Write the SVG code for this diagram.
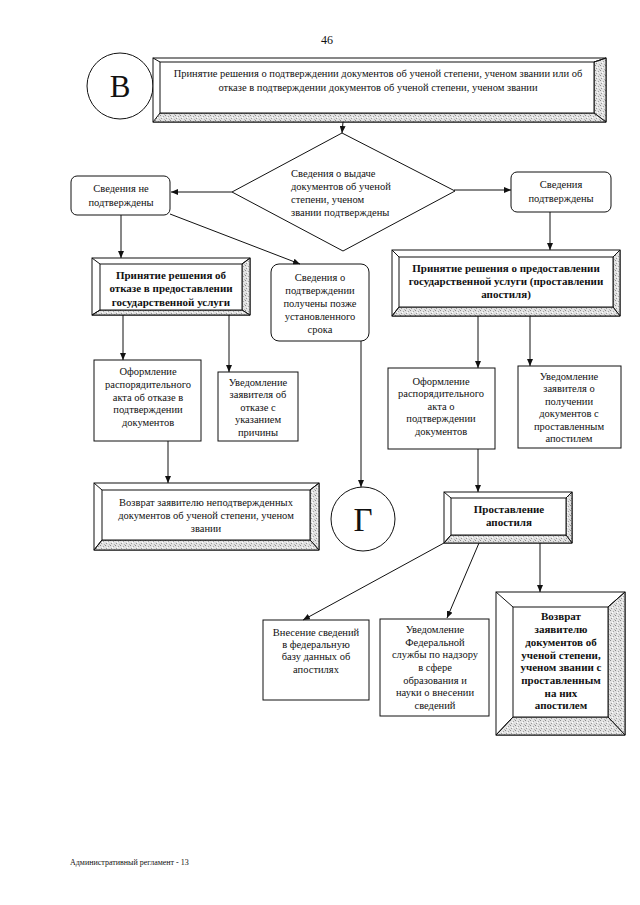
<svg xmlns="http://www.w3.org/2000/svg" width="640" height="905" viewBox="0 0 640 905">
<style>
text{font-family:"Liberation Serif","Times New Roman",serif;font-size:10.5px;fill:#111;text-anchor:middle}
.b{font-weight:bold;font-size:11px}
.l{text-anchor:start}
.box{fill:#fff;stroke:#111;stroke-width:1}
.sh{fill:url(#stip);stroke:#111;stroke-width:1}
.bv{fill:#fff;stroke:#111;stroke-width:1}
.ln{stroke:#111;stroke-width:1;fill:none}
.c{stroke:#111;stroke-width:1;fill:none;marker-end:url(#ah)}
</style>
<defs>
<pattern id="stip" width="5" height="5" patternUnits="userSpaceOnUse">
<rect width="5" height="5" fill="#e2e2e2"/>
<rect x="0" y="0" width="1" height="1" fill="#8a8a8a"/>
<rect x="3" y="1" width="1" height="1" fill="#a5a5a5"/>
<rect x="1" y="3" width="1" height="1" fill="#999"/>
<rect x="4" y="4" width="1" height="1" fill="#b5b5b5"/>
<rect x="2" y="2" width="1" height="1" fill="#fff"/>
</pattern>
<marker id="ah" markerWidth="7" markerHeight="6" refX="7" refY="3" orient="auto" markerUnits="userSpaceOnUse">
<path d="M0,0 L7,3 L0,6 Z" fill="#111"/>
</marker>
</defs>
<rect width="640" height="905" fill="#fff"/>
<text x="327" y="44" style="font-size:12px">46</text>

<g id="nodeB">
<circle cx="120" cy="86" r="33" class="box"/>
<text x="120" y="97" style="font-size:31px">В</text>
</g>

<g id="node-top">
<rect x="153" y="58" width="453" height="64" class="bv"/>
<polygon points="606,58 606,122 594,113 594,62" class="sh"/>
<polygon points="153,122 606,122 594,113 160,113" class="sh"/>
<rect x="160" y="62" width="434" height="51" class="bv"/>
<path d="M153,58 L160,62 M606,58 L594,62" class="ln"/>
<text x="378" y="77">Принятие решения о подтверждении документов об ученой степени, ученом звании или об</text>
<text x="378" y="91">отказе в подтверждении документов об ученой степени, ученом звании</text>
</g>

<g id="node-diamond">
<polygon points="342,133 455,191 343,251 232,192" class="box"/>
<text x="291" y="177" class="l">Сведения о выдаче</text>
<text x="291" y="190" class="l">документов об ученой</text>
<text x="291" y="203" class="l">степени, ученом</text>
<text x="291" y="216" class="l">звании подтверждены</text>
</g>

<g id="node-not-confirmed">
<rect x="71" y="176" width="99" height="39" rx="6" class="box"/>
<text x="121" y="192">Сведения не</text>
<text x="121" y="206">подтверждены</text>
</g>

<g id="node-confirmed">
<rect x="511" y="172" width="100" height="40" rx="6" class="box"/>
<text x="561" y="188">Сведения</text>
<text x="561" y="202">подтверждены</text>
</g>

<g id="node-refuse">
<rect x="92" y="258" width="158" height="57" class="bv"/>
<polygon points="250,258 250,315 242,310 242,264" class="sh"/>
<polygon points="92,315 250,315 242,310 100,310" class="sh"/>
<rect x="100" y="264" width="142" height="46" class="bv"/>
<path d="M92,258 L100,264 M250,258 L242,264 M92,315 L100,310" class="ln"/>
<text x="171" y="279" class="b">Принятие решения об</text>
<text x="171" y="292" class="b">отказе в предоставлении</text>
<text x="171" y="306" class="b">государственной услуги</text>
</g>

<g id="node-late">
<rect x="271" y="264" width="98" height="77" rx="8" class="box"/>
<text x="320" y="281">Сведения о</text>
<text x="320" y="294">подтверждении</text>
<text x="320" y="307">получены позже</text>
<text x="320" y="320">установленного</text>
<text x="320" y="333">срока</text>
</g>

<g id="node-grant">
<rect x="392" y="250" width="228" height="66" class="bv"/>
<polygon points="620,250 620,316 613,307 613,257" class="sh"/>
<polygon points="392,316 620,316 613,307 399,307" class="sh"/>
<rect x="399" y="257" width="214" height="50" class="bv"/>
<path d="M392,250 L399,257 M620,250 L613,257 M392,316 L399,307" class="ln"/>
<text x="506" y="272" class="b">Принятие решения о предоставлении</text>
<text x="506" y="285" class="b">государственной услуги (проставлении</text>
<text x="506" y="298" class="b">апостиля)</text>
</g>

<g id="node-act-refuse">
<rect x="94" y="360" width="107" height="81" class="box"/>
<text x="148" y="375">Оформление</text>
<text x="148" y="388">распорядительного</text>
<text x="148" y="401">акта об отказе в</text>
<text x="148" y="413">подтверждении</text>
<text x="148" y="426">документов</text>
</g>

<g id="node-notify-refuse">
<rect x="218" y="372" width="80" height="69" class="box"/>
<text x="258" y="386">Уведомление</text>
<text x="258" y="398">заявителя об</text>
<text x="258" y="411">отказе с</text>
<text x="258" y="423">указанием</text>
<text x="258" y="436">причины</text>
</g>

<g id="node-return-unconfirmed">
<rect x="94" y="483" width="225" height="67" class="bv"/>
<polygon points="319,483 319,550 310,540 310,490" class="sh"/>
<polygon points="94,550 319,550 310,540 102,540" class="sh"/>
<rect x="102" y="490" width="208" height="50" class="bv"/>
<path d="M94,483 L102,490 M319,483 L310,490 M94,550 L102,540" class="ln"/>
<text x="206" y="506">Возврат заявителю неподтвержденных</text>
<text x="206" y="519">документов об ученой степени, ученом</text>
<text x="206" y="532">звании</text>
</g>

<g id="nodeG">
<circle cx="363" cy="519" r="32" class="box"/>
<text x="363" y="531" style="font-size:33px">Г</text>
</g>

<g id="node-act-confirm">
<rect x="388" y="368" width="107" height="81" class="box"/>
<text x="441" y="385">Оформление</text>
<text x="441" y="397">распорядительного</text>
<text x="441" y="410">акта о</text>
<text x="441" y="422">подтверждении</text>
<text x="441" y="435">документов</text>
</g>

<g id="node-notify-apostille">
<rect x="518" y="366" width="103" height="82" class="box"/>
<text x="569" y="380">Уведомление</text>
<text x="569" y="392">заявителя о</text>
<text x="569" y="405">получении</text>
<text x="569" y="417">документов с</text>
<text x="569" y="430">проставленным</text>
<text x="569" y="442">апостилем</text>
</g>

<g id="node-apostille">
<rect x="444" y="492" width="128" height="51" class="bv"/>
<polygon points="572,492 572,543 566,535 566,498" class="sh"/>
<polygon points="444,543 572,543 566,535 451,535" class="sh"/>
<rect x="451" y="498" width="115" height="37" class="bv"/>
<path d="M444,492 L451,498 M572,492 L566,498 M444,543 L451,535" class="ln"/>
<text x="509" y="513" class="b">Проставление</text>
<text x="509" y="526" class="b">апостиля</text>
</g>

<g id="node-federal-db">
<rect x="263" y="620" width="106" height="80" class="box"/>
<text x="316" y="636">Внесение сведений</text>
<text x="316" y="648">в федеральную</text>
<text x="316" y="660">базу данных об</text>
<text x="316" y="673">апостилях</text>
</g>

<g id="node-notify-federal">
<rect x="380" y="619" width="109" height="97" class="box"/>
<text x="435" y="633">Уведомление</text>
<text x="435" y="646">Федеральной</text>
<text x="435" y="658">службы по надзору</text>
<text x="435" y="671">в сфере</text>
<text x="435" y="684">образования и</text>
<text x="435" y="696">науки о внесении</text>
<text x="435" y="709">сведений</text>
</g>

<g id="node-return-apostille">
<rect x="496" y="592" width="129" height="143" class="bv"/>
<polygon points="625,592 625,735 608,717 608,607" class="sh"/>
<polygon points="496,735 625,735 608,717 513,717" class="sh"/>
<rect x="513" y="607" width="95" height="110" class="bv"/>
<path d="M496,592 L513,607 M625,592 L608,607 M496,735 L513,717" class="ln"/>
<text x="561" y="620" class="b">Возврат</text>
<text x="561" y="633" class="b">заявителю</text>
<text x="561" y="646" class="b">документов об</text>
<text x="561" y="659" class="b">ученой степени,</text>
<text x="561" y="671" class="b">ученом звании с</text>
<text x="561" y="684" class="b">проставленным</text>
<text x="561" y="697" class="b">на них</text>
<text x="561" y="709" class="b">апостилем</text>
</g>

<g id="connectors">
<path d="M343,122 L342,133" class="c"/>
<path d="M232,192 L171,192" class="c"/>
<path d="M454,190 L511,190" class="c"/>
<path d="M121,215 L121,258" class="c"/>
<path d="M170,214 L300,264" class="c"/>
<path d="M550,212 L550,250" class="c"/>
<path d="M123,315 L123,360" class="c"/>
<path d="M229,315 L229,372" class="c"/>
<path d="M478,316 L478,368" class="c"/>
<path d="M530,316 L530,366" class="c"/>
<path d="M168,441 L168,483" class="c"/>
<path d="M361,341 L361,487" class="c"/>
<path d="M478,449 L478,492" class="c"/>
<path d="M444,543 L303,620" class="c"/>
<path d="M479,543 L447,618" class="c"/>
<path d="M540,543 L540,592" class="c"/>
</g>

<text x="70" y="865" class="l" style="font-size:8px">Административный регламент - 13</text>
</svg>
